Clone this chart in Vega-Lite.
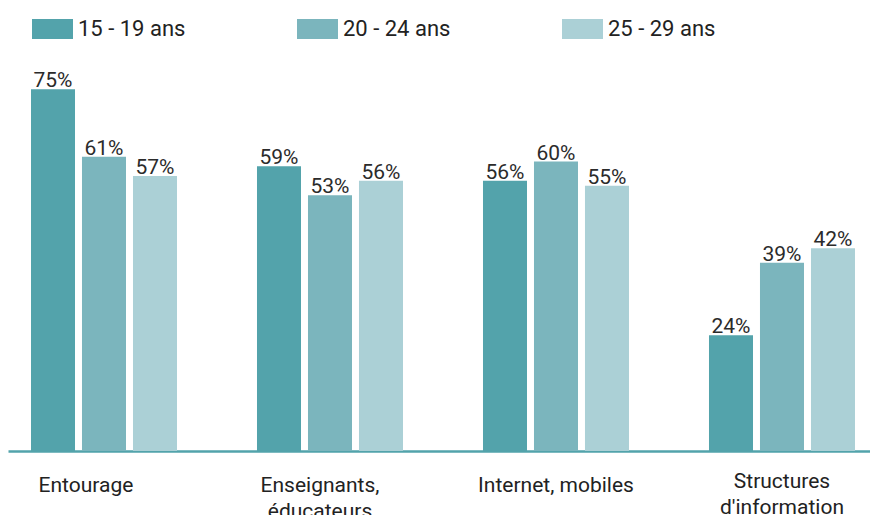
{
  "$schema": "https://vega.github.io/schema/vega-lite/v6.json",
  "autosize": {"type": "none"},
  "width": 862,
  "height": 386,
  "padding": {"left": 8, "top": 65, "right": 0, "bottom": 64},
  "background": "white",
  "config": {
    "view": {"stroke": null},
    "font": "Roboto"
  },
  "data": {
    "values": [
      {"cat": "Entourage", "age": "15 - 19 ans", "v": 0.75},
      {"cat": "Entourage", "age": "20 - 24 ans", "v": 0.61},
      {"cat": "Entourage", "age": "25 - 29 ans", "v": 0.57},
      {"cat": "Enseignants, éducateurs", "age": "15 - 19 ans", "v": 0.59},
      {"cat": "Enseignants, éducateurs", "age": "20 - 24 ans", "v": 0.53},
      {"cat": "Enseignants, éducateurs", "age": "25 - 29 ans", "v": 0.56},
      {"cat": "Internet, mobiles", "age": "15 - 19 ans", "v": 0.56},
      {"cat": "Internet, mobiles", "age": "20 - 24 ans", "v": 0.60},
      {"cat": "Internet, mobiles", "age": "25 - 29 ans", "v": 0.55},
      {"cat": "Structures d'information", "age": "15 - 19 ans", "v": 0.24},
      {"cat": "Structures d'information", "age": "20 - 24 ans", "v": 0.39},
      {"cat": "Structures d'information", "age": "25 - 29 ans", "v": 0.42}
    ]
  },
  "encoding": {
    "x": {
      "field": "cat", "type": "nominal", "sort": null,
      "scale": {"paddingInner": 0.354, "paddingOuter": 0.0841, "align": 0.605},
      "axis": {
        "title": null,
        "labelAngle": 0,
        "ticks": false,
        "tickSize": 0,
        "domainColor": "#52a3ab",
        "domainWidth": 2.5,
        "labelFont": "Roboto",
        "labelFontSize": 21,
        "labelColor": "#222222",
        "labelBaseline": "alphabetic",
        "labelPadding": {"condition": {"test": "datum.value == \"Structures d'information\"", "value": 36}, "value": 40},
        "labelOffset": {"condition": [
          {"test": "datum.value == 'Entourage'", "value": -18},
          {"test": "datum.value == 'Enseignants, éducateurs'", "value": -10}
        ], "value": 0},
        "labelLineHeight": 26,
        "labelLimit": 300,
        "labelExpr": "datum.value == 'Enseignants, éducateurs' ? ['Enseignants,', 'éducateurs'] : datum.value == \"Structures d'information\" ? ['Structures', \"d'information\"] : datum.value"
      }
    },
    "xOffset": {
      "field": "age", "type": "nominal",
      "scale": {"paddingInner": 0.137, "paddingOuter": 0}
    },
    "y": {
      "field": "v", "type": "quantitative",
      "scale": {"domain": [0, 0.8], "nice": false},
      "axis": null
    }
  },
  "layer": [
    {
      "mark": {"type": "bar"},
      "encoding": {
        "color": {
          "field": "age", "type": "nominal",
          "scale": {"range": ["#53a3ab", "#7bb5bd", "#abd0d6"]},
          "legend": {
            "title": null,
            "orient": "none",
            "direction": "horizontal",
            "legendX": 23,
            "legendY": -47,
            "symbolType": "M-1,-1H3.1V1H-1Z",
            "symbolSize": 400,
            "symbolStrokeWidth": 0,
            "labelOffset": 25,
            "labelFont": "Roboto",
            "labelFontSize": 22,
            "labelColor": "#222222",
            "columnPadding": 110,
            "padding": 0
          }
        }
      }
    },
    {
      "mark": {"type": "text", "baseline": "alphabetic", "dy": -2, "fontSize": 21, "color": "#2b2b2b", "font": "Roboto"},
      "encoding": {
        "text": {"field": "v", "type": "quantitative", "format": ".0%"}
      }
    }
  ]
}
